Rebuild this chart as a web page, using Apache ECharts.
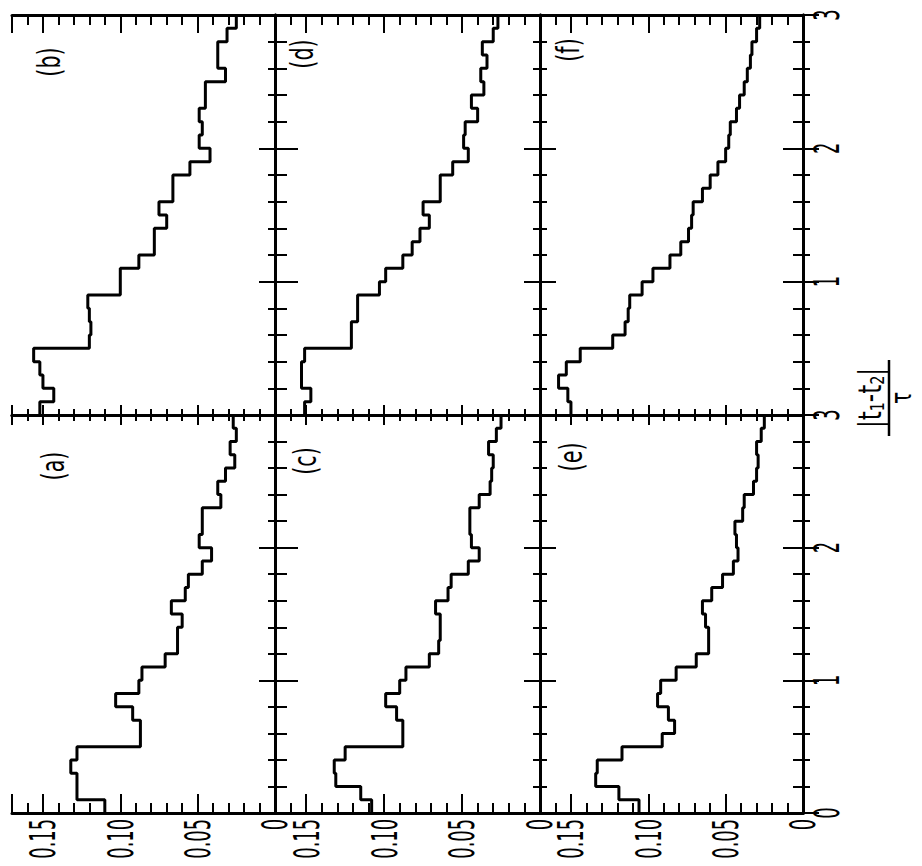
<!DOCTYPE html>
<html><head><meta charset="utf-8">
<script src="https://cdn.jsdelivr.net/npm/echarts@6/dist/echarts.min.js"></script>
<style>html,body{margin:0;padding:0;background:#fff}#chart{width:922px;height:866px}</style>
</head><body><div id="chart"></div>
<script>
// ---- data ----
const tEdges = [0,0.1,0.2,0.3,0.4,0.5,0.6,0.7,0.8,0.9,1.0,1.1,1.2,1.3,1.4,1.5,1.6,1.7,1.8,1.9,2.0,2.1,2.2,2.3,2.4,2.5,2.6,2.7,2.8,2.9,3.0];
const tTickValues = [0,1,2,3];
const tTickLabels = ['0','1','2','3'];
const valueTickValues = [0,0.05,0.10,0.15];
const valueTickLabels = ['0','0.05','0.10','0.15'];
const panelNames = ['(b)','(d)','(f)','(a)','(c)','(e)'];
const panelB = [0.152,0.143,0.150,0.152,0.156,0.120,0.119,0.120,0.121,0.100,0.100,0.088,0.078,0.078,0.070,0.075,0.066,0.066,0.055,0.042,0.049,0.047,0.049,0.045,0.045,0.032,0.037,0.037,0.031,0.025];
const panelD = [0.151,0.147,0.153,0.153,0.151,0.121,0.121,0.117,0.117,0.103,0.099,0.088,0.082,0.077,0.071,0.075,0.064,0.064,0.056,0.046,0.049,0.048,0.040,0.044,0.036,0.038,0.034,0.037,0.030,0.027];
const panelF = [0.150,0.152,0.158,0.153,0.144,0.123,0.115,0.113,0.112,0.104,0.097,0.086,0.079,0.074,0.072,0.071,0.065,0.060,0.055,0.050,0.048,0.047,0.043,0.041,0.038,0.036,0.034,0.033,0.030,0.028];
const panelA = [0.110,0.128,0.128,0.132,0.128,0.087,0.087,0.092,0.103,0.088,0.086,0.071,0.063,0.063,0.060,0.067,0.058,0.056,0.047,0.041,0.049,0.047,0.047,0.035,0.037,0.032,0.026,0.029,0.025,0.027];
const panelC = [0.108,0.115,0.131,0.132,0.125,0.088,0.088,0.092,0.099,0.090,0.086,0.071,0.065,0.064,0.064,0.067,0.059,0.057,0.046,0.039,0.044,0.045,0.045,0.039,0.032,0.031,0.030,0.033,0.028,0.025];
const panelE = [0.106,0.119,0.134,0.133,0.117,0.091,0.083,0.087,0.094,0.092,0.082,0.069,0.061,0.061,0.063,0.065,0.059,0.052,0.045,0.042,0.043,0.044,0.039,0.038,0.032,0.030,0.029,0.030,0.027,0.025];
const panels = [panelB, panelD, panelF, panelA, panelC, panelE];

// ---- layout ----
const FONT = "'DejaVu Sans Condensed','DejaVu Sans',sans-serif";
const colLeft = [12, 275, 540], colWidth = [263, 265, 263];
const rowTop = [15, 415], rowHeight = [400, 398];
const VMAX = 0.17;
const BLACK = '#000';
const LABEL_SQUEEZE = 0.55;   // the scan uses a tall, narrow typeface

const grids = [], xAxes = [], yAxes = [], series = [];

function valueLabel(v){
  for (let i=0;i<valueTickValues.length;i++) if (Math.abs(v-valueTickValues[i])<1e-6) return valueTickLabels[i];
  return '';
}
function tLabelTop(v){
  for (let i=1;i<tTickValues.length;i++) if (Math.abs(v-tTickValues[i])<1e-6) return tTickLabels[i];
  return '';
}
function tLabelAll(v){
  for (let i=0;i<tTickValues.length;i++) if (Math.abs(v-tTickValues[i])<1e-6) return tTickLabels[i];
  return '';
}

function xAx(g, pos, interval, len, line, labels){
  const ax = {
    type:'value', gridIndex:g, position:pos, inverse:true, min:0, max:VMAX, interval:interval,
    axisLine:{show:line, lineStyle:{color:BLACK, width:3}},
    axisTick:{show:true, inside:true, length:len, lineStyle:{color:BLACK, width:2}},
    splitLine:{show:false},
    axisLabel:{show:false}
  };
  if (labels){
    ax.axisLabel = {show:true, rotate:90, margin:6, color:BLACK, fontSize:36, fontFamily:FONT,
      formatter:valueLabel, showMinLabel:true, showMaxLabel:true};
  }
  xAxes.push(ax);
  return xAxes.length-1;
}
function yAx(g, pos, majorLen, minorLen, labels, fmt){
  const ax = {
    type:'value', gridIndex:g, position:pos, min:0, max:3, interval:1,
    axisLine:{show:true, lineStyle:{color:BLACK, width:3}},
    axisTick:{show:true, inside:true, length:majorLen, lineStyle:{color:BLACK, width:2}},
    minorTick:{show:true, splitNumber:5, length:minorLen, lineStyle:{color:BLACK, width:2}},
    splitLine:{show:false}, minorSplitLine:{show:false},
    axisLabel:{show:false}
  };
  if (labels){
    ax.axisLabel = {show:true, rotate:90, margin:6, color:BLACK, fontSize:36, fontFamily:FONT,
      formatter:fmt, showMinLabel:true, showMaxLabel:true};
  }
  yAxes.push(ax);
  return yAxes.length-1;
}

for (let r=0;r<2;r++){
  for (let c=0;c<3;c++){
    const g = r*3+c;
    grids.push({left:colLeft[c], top:rowTop[r], width:colWidth[c], height:rowHeight[r],
      containLabel:false, outerBoundsMode:'none'});
    const bottomRow = r===1;
    const mainX = xAx(g,'bottom',0.05, bottomRow?19:10, true, bottomRow);
    xAx(g,'bottom',0.01, bottomRow?10:6, false, false);
    xAx(g,'top',0.05, bottomRow?10:18, true, false);
    xAx(g,'top',0.01, bottomRow?6:10, false, false);
    const mainY = yAx(g,'left', c===0?23:16, c===0?12:7, false);
    yAx(g,'right', c===2?20:16, c===2?10:7, c===2, bottomRow?tLabelAll:tLabelTop);

    const vals = panels[g];
    const pts = [];
    for (let k=0;k<vals.length;k++){
      pts.push([vals[k], tEdges[k]]);
      pts.push([vals[k], tEdges[k+1]]);
    }
    series.push({
      type:'line', xAxisIndex:mainX, yAxisIndex:mainY, data:pts,
      symbol:'none', showSymbol:false, clip:false, silent:true,
      lineStyle:{color:BLACK, width:3}, z:5
    });
  }
}

// panel tags (a)-(f), rotated like the rest of the text
const tagPos = [[49,62],[302,54],[568,50],[53,466],[305,461],[571,457]];
const graphics = panelNames.map((name,i)=>({
  type:'text', x:tagPos[i][0], y:tagPos[i][1], rotation:Math.PI/2, scaleX:0.72,
  style:{text:name, fill:BLACK, font:'32px '+FONT, align:'center', verticalAlign:'middle'}
}));
// axis title |t1 - t2| / tau
graphics.push({
  type:'group', x:889, y:398, rotation:Math.PI/2,
  children:[
    {type:'text', x:0, y:-19, scaleX:0.8, style:{text:'|t{s|1}-t{s|2}|', fill:BLACK, font:'32px '+FONT, align:'center', verticalAlign:'middle',
      rich:{s:{fontSize:20, fontFamily:FONT, fill:BLACK, verticalAlign:'bottom', padding:[14,0,0,0]}}}},
    {type:'line', shape:{x1:-38, y1:0, x2:38, y2:0}, style:{stroke:BLACK, lineWidth:2.5}},
    {type:'text', x:0, y:12, scaleX:0.8, style:{text:'τ', fill:BLACK, font:'28px '+FONT, align:'center', verticalAlign:'middle'}}
  ]
});

const chart = echarts.init(document.getElementById('chart'), null, {renderer:'svg'});
chart.setOption({
  animation:false,
  backgroundColor:'#fff',
  grid:grids, xAxis:xAxes, yAxis:yAxes, series:series, graphic:graphics
});

// squeeze the axis tick labels along their reading direction (narrow typeface of the scan)
try {
  const zr = chart.getZr();
  const wanted = new Set(valueTickLabels.concat(tTickLabels));
  zr.storage.getRoots().forEach(function(root){
    root.traverse(function(el){
      if (el.type === 'text' && el.style && wanted.has(String(el.style.text)) && Math.abs((el.rotation||0) - Math.PI/2) < 0.01) {
        el.scaleX = LABEL_SQUEEZE;
        el.markRedraw();
      }
    });
  });
  zr.refreshImmediately();
} catch (e) {}
</script>
</body></html>
